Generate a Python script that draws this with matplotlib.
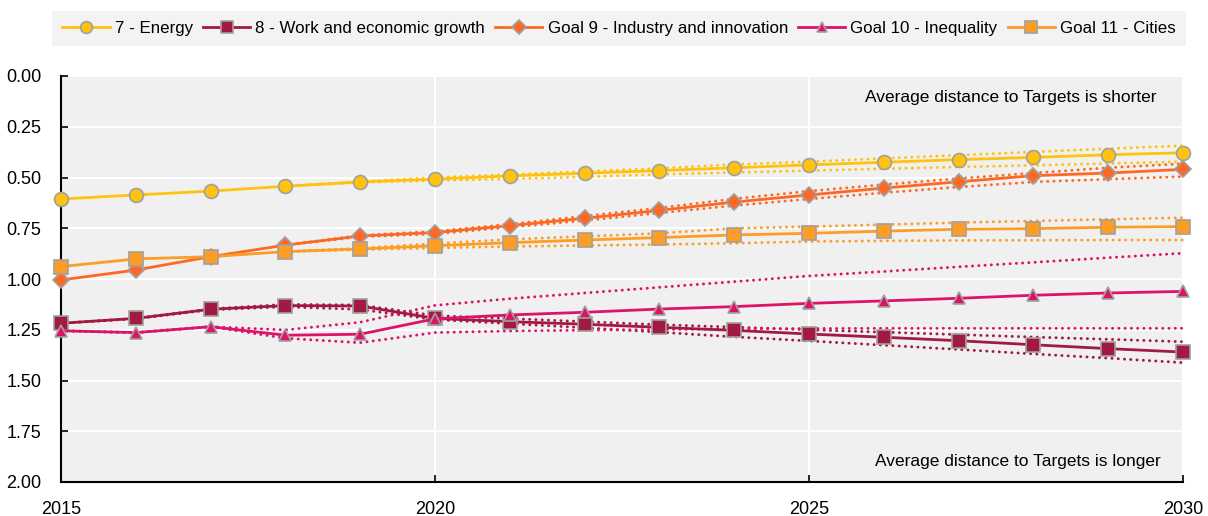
# i am importing the packages i need to draw the distance to targets chart
import numpy as np
import matplotlib.pyplot as plt

plt.rcParams['font.family'] = ['Liberation Sans', 'DejaVu Sans']

nan = np.nan

# years on the x axis
years = list(range(2015, 2031))

# average distance to targets for each goal
energy = [0.606, 0.586, 0.567, 0.543, 0.522, 0.508, 0.492, 0.479, 0.466, 0.452, 0.438, 0.425, 0.412, 0.401, 0.388, 0.378]
energy_hi = [nan, nan, nan, 0.543, 0.520, 0.500, 0.485, 0.470, 0.455, 0.436, 0.422, 0.406, 0.390, 0.374, 0.358, 0.343]
energy_lo = [nan, nan, nan, 0.543, 0.524, 0.515, 0.507, 0.497, 0.485, 0.475, 0.466, 0.457, 0.448, 0.440, 0.431, 0.422]

work = [1.218, 1.194, 1.149, 1.131, 1.133, 1.194, 1.210, 1.223, 1.238, 1.253, 1.271, 1.287, 1.304, 1.324, 1.343, 1.360]
work_hi = [1.218, 1.194, 1.147, 1.125, 1.128, 1.180, 1.195, 1.210, 1.225, 1.237, 1.250, 1.262, 1.274, 1.286, 1.297, 1.309]
work_lo = [1.218, 1.196, 1.152, 1.137, 1.150, 1.200, 1.220, 1.240, 1.262, 1.285, 1.305, 1.326, 1.347, 1.369, 1.390, 1.412]

industry = [1.005, 0.956, 0.890, 0.833, 0.788, 0.771, 0.737, 0.701, 0.662, 0.621, 0.586, 0.552, 0.521, 0.491, 0.478, 0.460]
industry_hi = [nan, nan, nan, 0.833, 0.785, 0.765, 0.730, 0.690, 0.650, 0.605, 0.567, 0.535, 0.505, 0.478, 0.452, 0.432]
industry_lo = [nan, nan, nan, 0.833, 0.792, 0.778, 0.745, 0.712, 0.675, 0.638, 0.606, 0.575, 0.547, 0.522, 0.508, 0.496]

inequality = [1.255, 1.264, 1.235, 1.277, 1.272, 1.196, 1.177, 1.164, 1.148, 1.136, 1.120, 1.108, 1.095, 1.080, 1.069, 1.061]
inequality_hi = [1.255, 1.264, 1.235, 1.251, 1.213, 1.130, 1.097, 1.069, 1.041, 1.013, 0.985, 0.963, 0.940, 0.918, 0.895, 0.873]
inequality_lo = [1.255, 1.264, 1.235, 1.292, 1.314, 1.264, 1.256, 1.252, 1.249, 1.246, 1.244, 1.243, 1.243, 1.243, 1.243, 1.243]

cities = [0.939, 0.901, 0.890, 0.865, 0.852, 0.836, 0.821, 0.808, 0.796, 0.783, 0.775, 0.764, 0.755, 0.752, 0.745, 0.742]
cities_hi = [nan, nan, nan, 0.865, 0.848, 0.825, 0.805, 0.790, 0.775, 0.750, 0.742, 0.732, 0.722, 0.714, 0.706, 0.698]
cities_lo = [nan, nan, nan, 0.865, 0.856, 0.847, 0.840, 0.835, 0.830, 0.824, 0.815, 0.812, 0.810, 0.809, 0.808, 0.808]

labels = ["7 - Energy", "8 - Work and economic growth", "Goal 9 - Industry and innovation",
          "Goal 10 - Inequality", "Goal 11 - Cities"]
colors = ["#FFC20E", "#A21942", "#FD6925", "#DD1367", "#FD9D24"]
markers = ["o", "s", "D", "^", "s"]
msizes = [10, 9.5, 8, 9, 9.5]

series = [(energy, energy_hi, energy_lo), (work, work_hi, work_lo),
          (industry, industry_hi, industry_lo), (inequality, inequality_hi, inequality_lo),
          (cities, cities_hi, cities_lo)]

fig = plt.figure(figsize=(12.08, 5.16), dpi=100)
ax = fig.add_axes([61 / 1208, 1 - 482 / 516, 1122 / 1208, 406 / 516])
ax.set_facecolor("#F0F0F0")

# dotted bounds first so the main lines sit on top (round dots)
dots = (0, (0.05, 2.1))
for (vals, hi, lo), c in zip(series, colors):
    ax.plot(years, hi, linestyle=dots, color=c, linewidth=2.1, zorder=2,
            dash_capstyle="round", clip_on=False)
    ax.plot(years, lo, linestyle=dots, color=c, linewidth=2.1, zorder=2,
            dash_capstyle="round", clip_on=False)

handles = []
for (vals, hi, lo), c, m, ms, lab in zip(series, colors, markers, msizes, labels):
    h, = ax.plot(years, vals, color=c, linewidth=2.0, marker=m, markersize=ms,
                 markerfacecolor=c, markeredgecolor="#A0A0A0", markeredgewidth=1.2,
                 label=lab, zorder=3, clip_on=False)
    handles.append(h)

ax.set_xlim(2015, 2030)
ax.set_ylim(2.0, 0.0)
ax.set_xticks([2015, 2020, 2025, 2030])
ax.set_yticks(np.arange(0, 2.01, 0.25))
ax.set_yticklabels(["%.2f" % v for v in np.arange(0, 2.01, 0.25)])
ax.tick_params(axis="both", direction="in", length=5, width=1.2, labelsize=13)
ax.tick_params(axis="y", pad=14)
ax.tick_params(axis="x", pad=14)

ax.grid(True, color="white", linewidth=1.5)
ax.set_axisbelow(True)
for s in ["top", "right"]:
    ax.spines[s].set_visible(False)
for s in ["left", "bottom"]:
    ax.spines[s].set_linewidth(1.5)
    ax.spines[s].set_color("black")

ax.text(2029.65, 0.105, "Average distance to Targets is shorter", ha="right", va="center", fontsize=12.5)
ax.text(2029.7, 1.9, "Average distance to Targets is longer", ha="right", va="center", fontsize=12.5)

# legend sits in a grey strip across the top
leg = fig.legend(handles=handles, loc="lower left", ncol=5, mode="expand",
                 bbox_to_anchor=(52 / 1208, 1 - 46 / 516, 1134 / 1208, 38 / 516),
                 fontsize=12.2, frameon=True, fancybox=False, handlelength=2.8,
                 handletextpad=0.3, columnspacing=0.6, borderpad=0.6, borderaxespad=0,
                 markerscale=0.85)
leg.get_frame().set_facecolor("#F0F0F0")
leg.get_frame().set_edgecolor("none")

plt.savefig("out.png", dpi=100)
